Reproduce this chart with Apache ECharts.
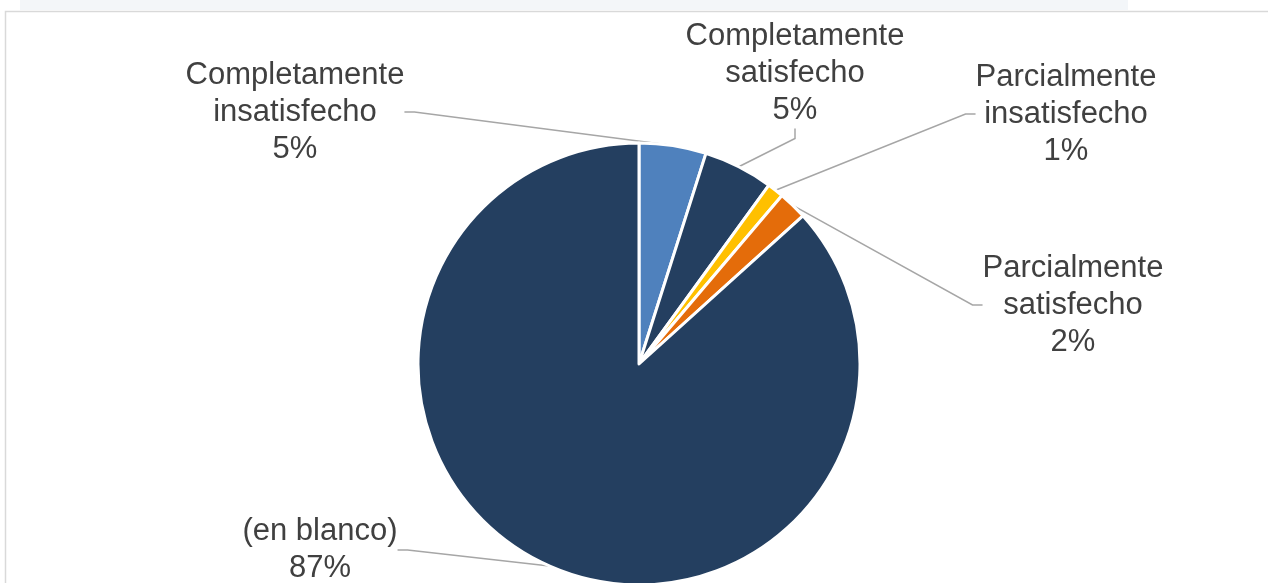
<!DOCTYPE html>
<html>
<head>
<meta charset="utf-8">
<script src="https://cdn.jsdelivr.net/npm/echarts@6/dist/echarts.min.js"></script>
<style>
html,body{margin:0;padding:0;background:#fff;}
#c{width:1268px;height:583px;}
</style>
</head>
<body>
<div id="c"></div>
<script>
// Data (percent shares)
var categories = ['Completamente insatisfecho', 'Completamente satisfecho', 'Parcialmente insatisfecho', 'Parcialmente satisfecho', '(en blanco)'];
var values = [4.9, 5.1, 1.2, 2.1, 86.7];
var colors = ['#4F81BD', '#243F60', '#FFC000', '#E46C0A', '#243F60'];

// Label placement (style only): centre of each label block
var labelPos = [[295, 112], [795, 73], [1066, 114], [1073, 305], [320, 550]];

var chart = echarts.init(document.getElementById('c'), null, {renderer: 'canvas'});
var data = categories.map(function (n, i) {
  return {name: n, value: values[i], itemStyle: {color: colors[i]}};
});
chart.setOption({
  backgroundColor: '#ffffff',
  animation: false,
  graphic: [
    {type: 'rect', shape: {x: 20, y: 0, width: 1108, height: 10}, style: {fill: '#f3f6f9'}, z: -10},
    {type: 'rect', shape: {x: 5.5, y: 11.5, width: 1300, height: 600}, style: {fill: 'none', stroke: '#d9d9d9', lineWidth: 1.5}, z: -5}
  ],
  series: [{
    type: 'pie',
    center: [639, 364],
    radius: 221,
    startAngle: 90,
    clockwise: true,
    data: data,
    itemStyle: {borderColor: '#ffffff', borderWidth: 3},
    label: {
      show: true,
      formatter: function (p) {
        return p.name.replace('mente ', 'mente\n') + '\n' + Math.round(p.percent) + '%';
      },
      fontFamily: 'Liberation Sans, Arial, sans-serif',
      fontSize: 31,
      lineHeight: 37,
      color: '#404040',
      align: 'center'
    },
    labelLine: {
      show: true,
      length: 20,
      length2: 10,
      lineStyle: {color: '#a6a6a6', width: 1.5}
    },
    labelLayout: function (params) {
      var pos = labelPos[params.dataIndex];
      return {x: pos[0], y: pos[1], align: 'center', verticalAlign: 'middle'};
    },
    emphasis: {disabled: true}
  }]
});
</script>
</body>
</html>
